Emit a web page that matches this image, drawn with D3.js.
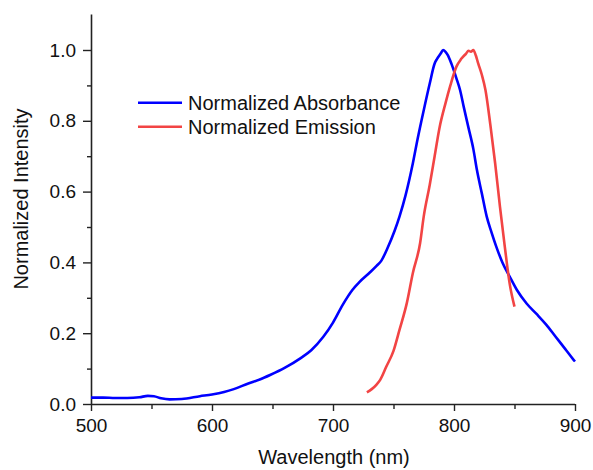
<!DOCTYPE html>
<html>
<head>
<meta charset="utf-8">
<script src="https://cdn.jsdelivr.net/npm/d3@7"></script>
<style>
  html, body { margin: 0; padding: 0; background: #fff; }
  svg text { font-family: Arial, "Liberation Sans", sans-serif; fill: #111; }
</style>
</head>
<body>
<svg id="chart" width="593" height="470"></svg>
<script>
// ---- data ----
const absWavelength = [500,510,520,530,540,547,552,558,565,575,590,600,610,618,630,640,648,660,673,682,692,700,708,716,722,730,736,740,745,751,755,760,766,770,775,780,784,786,789,791,793,795,798,802,805,808,812,816,819,823,827,831,835,840,846,852,860,868,876,884,892,899,900];
const absValues = [0.018,0.018,0.017,0.017,0.019,0.023,0.022,0.016,0.013,0.014,0.022,0.027,0.034,0.042,0.058,0.070,0.082,0.102,0.129,0.152,0.19,0.23,0.28,0.322,0.345,0.37,0.39,0.405,0.44,0.49,0.53,0.59,0.68,0.75,0.83,0.906,0.962,0.975,0.99,1.0,0.995,0.985,0.96,0.92,0.887,0.84,0.78,0.72,0.66,0.595,0.53,0.485,0.444,0.40,0.36,0.322,0.284,0.255,0.225,0.19,0.155,0.124,0.12];
const emWavelength = [728,732,736,739,744,750,755,761,766,772,775,780,784,788,793,797,802,806,810,812,814,816,818,820,823,826,830,834,838,842,846,850];
const emValues = [0.033,0.042,0.055,0.068,0.105,0.15,0.21,0.285,0.37,0.455,0.53,0.62,0.70,0.78,0.85,0.90,0.953,0.975,0.99,0.998,0.995,1.0,0.985,0.962,0.93,0.887,0.79,0.68,0.557,0.444,0.34,0.275];
const seriesNames = ["Normalized Absorbance", "Normalized Emission"];
const seriesColors = ["#0000ff", "#f24444"];
const xTicks = [500,600,700,800,900];
const xMinorTicks = [550,650,750,850];
const yTicks = [0,0.2,0.4,0.6,0.8,1.0];
const yMinorTicks = [0.1,0.3,0.5,0.7,0.9];
const xTitle = "Wavelength (nm)";
const yTitle = "Normalized Intensity";

// ---- layout ----
const svg = d3.select("#chart");
const mLeft = 91, mRight = 575, mTop = 14.6, mBottom = 404;
const x = d3.scaleLinear().domain([500, 900]).range([mLeft, mRight]);
const y = d3.scaleLinear().domain([0, 1.1]).range([mBottom, mTop]);
const fs = 19;

// axes
const gx = svg.append("g").attr("transform", `translate(0,${mBottom})`)
  .call(d3.axisBottom(x).tickValues(xTicks).tickSize(7).tickPadding(8).tickFormat(d3.format("d")));
svg.append("g").attr("transform", `translate(0,${mBottom})`)
  .call(d3.axisBottom(x).tickValues(xMinorTicks).tickSize(5).tickFormat(""))
  .call(g => g.select(".domain").remove());

const gy = svg.append("g").attr("transform", `translate(${mLeft},0)`)
  .call(d3.axisLeft(y).tickValues(yTicks).tickSize(8).tickPadding(7).tickFormat(d3.format(".1f")));
svg.append("g").attr("transform", `translate(${mLeft},0)`)
  .call(d3.axisLeft(y).tickValues(yMinorTicks).tickSize(4).tickFormat(""))
  .call(g => g.select(".domain").remove());

svg.selectAll(".domain").attr("stroke", "#222").attr("stroke-width", 1.6);
svg.selectAll(".tick line").attr("stroke", "#222").attr("stroke-width", 1.4);
svg.selectAll(".tick text").attr("font-size", fs).attr("font-family", "Arial, 'Liberation Sans', sans-serif").attr("fill", "#111");
gx.select(".domain").attr("d", `M${mLeft},0.5H${mRight}`);
gy.select(".domain").attr("d", `M0.5,${mBottom}V${mTop}`);

// titles
svg.append("text").attr("x", (mLeft + mRight) / 2 + 1).attr("y", 464)
  .attr("text-anchor", "middle").attr("font-size", 20).text(xTitle);
svg.append("text").attr("transform", `translate(28,${(108 + 290) / 2}) rotate(-90)`)
  .attr("text-anchor", "middle").attr("font-size", 20).text(yTitle);

// lines
const line = d3.line().x(d => x(d[0])).y(d => y(d[1])).curve(d3.curveMonotoneX);
const absData = absWavelength.map((w, i) => [w, absValues[i]]);
const emData = emWavelength.map((w, i) => [w, emValues[i]]);
[absData, emData].forEach((data, i) => {
  svg.append("path").datum(data)
    .attr("fill", "none").attr("stroke", seriesColors[i]).attr("stroke-width", 2.6)
    .attr("stroke-linejoin", "round").attr("d", line);
});

// legend
const legend = svg.append("g");
seriesNames.forEach((name, i) => {
  const ly = 102.7 + i * 24;
  legend.append("line").attr("x1", 138).attr("x2", 182).attr("y1", ly).attr("y2", ly)
    .attr("stroke", seriesColors[i]).attr("stroke-width", 2.6);
  legend.append("text").attr("x", 188).attr("y", ly + 7.5).attr("font-size", 20).text(name);
});
</script>
</body>
</html>
